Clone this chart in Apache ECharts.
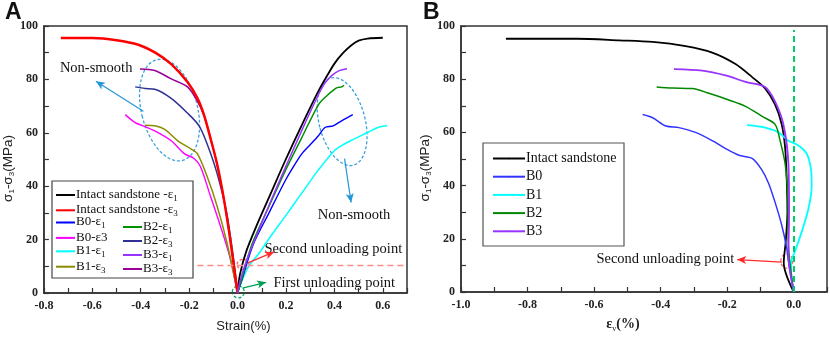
<!DOCTYPE html>
<html>
<head>
<meta charset="utf-8">
<script src="https://cdn.jsdelivr.net/npm/echarts@6/dist/echarts.min.js"></script>
<style>
html, body { margin: 0; padding: 0; background: #fff; }
#chart { width: 830px; height: 338px; }
</style>
</head>
<body>
<div id="chart"></div>
<script>
// ---- panel A : strain(%) vs sigma1-sigma3 (MPa) ----
const intactE1 = [[0,0],[0.01,7],[0.036,15.6],[0.08,25.5],[0.131,36],[0.199,50],[0.266,63],[0.334,75.6],[0.374,82],[0.401,86],[0.435,89.8],[0.469,92.7],[0.5,94.5],[0.537,95.3],[0.6,95.6]];
const intactE3 = [[-0.73,95.5],[-0.6,95.5],[-0.5,94.7],[-0.41,93],[-0.34,90],[-0.274,85.7],[-0.207,79],[-0.166,73],[-0.139,66.8],[-0.112,58],[-0.085,48.5],[-0.058,36],[-0.031,20.5],[0,0]];
const b0E1 = [[0,0],[0.02,5.5],[0.064,18],[0.131,30.2],[0.199,42.4],[0.239,48.5],[0.266,52.2],[0.3,55.5],[0.334,58.9],[0.361,62],[0.395,62.6],[0.43,64.5],[0.476,66.8]];
const b0E3 = [[-0.464,66.8],[-0.423,63.8],[-0.396,62.8],[-0.342,60.7],[-0.274,57],[-0.22,52.2],[-0.18,50.4],[-0.153,47.3],[-0.112,36.3],[-0.072,25.4],[-0.031,13.2],[0,0]];
const b1E1 = [[0,0],[0.02,5],[0.05,10.5],[0.09,15],[0.131,20.5],[0.199,29],[0.266,37.5],[0.334,46.1],[0.401,53.4],[0.442,55.8],[0.469,57.1],[0.537,60.1],[0.58,62],[0.618,62.6]];
const b1E3 = [[-0.382,62.8],[-0.342,62.6],[-0.301,61.3],[-0.247,57],[-0.193,54],[-0.166,52.2],[-0.126,43.7],[-0.085,32.7],[-0.045,19.3],[0,0]];
const b2E1 = [[0,0],[0.02,6],[0.037,11.9],[0.064,19.3],[0.131,32.7],[0.199,46.1],[0.266,58.3],[0.334,70.5],[0.37,74],[0.4,76.3],[0.415,77],[0.43,77.2],[0.44,77.8]];
const b2E3 = [[-0.423,77.2],[-0.382,76.6],[-0.342,76.3],[-0.274,72.9],[-0.207,67.4],[-0.159,62.6],[-0.126,55.9],[-0.085,44.9],[-0.045,30],[-0.02,15],[0,0]];
const b3E1 = [[0,0],[0.015,6],[0.045,14],[0.09,24],[0.14,35],[0.2,47.5],[0.266,61],[0.33,73.5],[0.36,78.5],[0.39,81.5],[0.42,83.3],[0.452,84]];
const b3E3 = [[-0.403,83.9],[-0.342,83.3],[-0.274,80.2],[-0.207,77.2],[-0.17,72.5],[-0.139,66.5],[-0.112,58],[-0.085,48.3],[-0.058,36],[-0.031,20.5],[0,0]];

// ---- panel B : volumetric strain(%) vs sigma1-sigma3 ----
const intactV = [[-0.865,95.2],[-0.653,95.2],[-0.524,94.6],[-0.424,94],[-0.325,92.4],[-0.245,90],[-0.175,85.7],[-0.125,80.8],[-0.086,76.5],[-0.056,70.4],[-0.036,63],[-0.026,54.5],[-0.021,42.2],[-0.019,30],[-0.024,19],[-0.03,11],[0,0]];
const b0V = [[-0.454,66.7],[-0.424,65.5],[-0.384,62.4],[-0.345,61.8],[-0.295,60],[-0.245,56.9],[-0.205,53.9],[-0.165,51.4],[-0.125,50.2],[-0.096,45.9],[-0.076,41],[-0.056,33.7],[-0.036,25.1],[-0.021,16.5],[-0.016,11.6],[-0.011,8],[0,0]];
const b1V = [[-0.14,62.7],[-0.086,61.8],[-0.046,60],[-0.016,56.9],[0.014,55.1],[0.039,52],[0.052,45.9],[0.054,39.8],[0.044,31.2],[0.024,22.6],[0.004,15.3],[-0.008,11],[-0.008,8],[0,0]];
const b2V = [[-0.412,77.1],[-0.365,76.7],[-0.305,76.5],[-0.255,74.7],[-0.195,72.2],[-0.145,69.8],[-0.096,66.1],[-0.056,63],[-0.041,56.9],[-0.026,48.3],[-0.018,36.1],[-0.016,17.7],[0,0]];
const b3V = [[-0.36,83.8],[-0.275,83.2],[-0.205,81.4],[-0.145,79],[-0.086,77.1],[-0.056,71.6],[-0.031,63],[-0.016,48.3],[-0.014,30],[-0.016,14],[0,0]];

// axis ranges [min, max, tick step]
const xAxisA = [-0.8, 0.7, 0.1];
const xAxisB = [-1.0, 0.1, 0.1];
const yAxisAB = [0, 100, 10];
const secondUnloadA = 10.5;   // dashed red level in panel A

const serif = 'Liberation Serif';
const sans = 'Liberation Sans';

function line(name, data, color, width, gi, extra) {
    return Object.assign({
        name: name, type: 'line', data: data,
        xAxisIndex: gi, yAxisIndex: gi,
        symbol: 'none', smooth: 0.3,
        lineStyle: { color: color, width: width },
        itemStyle: { color: color },
        emphasis: { disabled: true },
        animation: false
    }, extra || {});
}

function xAx(gi, r, name) {
    return {
        gridIndex: gi, type: 'value', min: r[0], max: r[1], interval: r[2],
        axisLine: { onZero: false, lineStyle: { color: '#333', width: 1.5 } },
        axisTick: { inside: true, length: 5, lineStyle: { color: '#333', width: 1.2 } },
        splitLine: { show: false },
        axisLabel: {
            formatter: v => (Math.round(v * 10) % 2 === 0 ? v.toFixed(1) : ''),
            fontFamily: serif, fontWeight: 'bold', fontSize: 12, color: '#222', margin: 7
        },
        name: name
    };
}
function yAx(gi) {
    return {
        gridIndex: gi, type: 'value', min: yAxisAB[0], max: yAxisAB[1], interval: yAxisAB[2],
        axisLine: { onZero: false, lineStyle: { color: '#333', width: 1.5 } },
        axisTick: { inside: true, length: 5, lineStyle: { color: '#333', width: 1.2 } },
        splitLine: { show: false },
        axisLabel: {
            formatter: v => (v % 20 === 0 ? String(v) : ''),
            fontFamily: serif, fontWeight: 'bold', fontSize: 12, color: '#222', margin: 6
        },
        name: '{a|σ}{s|1}{a|-σ}{s|3}{a|(MPa)}',
        nameLocation: 'middle', nameGap: 21,
        nameTextStyle: {
            padding: [0, 18, 0, 0],
            rich: {
                a: { fontFamily: sans, fontSize: 13.5, color: '#222', verticalAlign: 'top', lineHeight: 15 },
                s: { fontFamily: sans, fontSize: 8, color: '#222', verticalAlign: 'top', padding: [7, 0, 0, 0], lineHeight: 9 }
            }
        }
    };
}

function legRich(size) {
    return {
        t: { fontFamily: serif, fontSize: size, color: '#111', verticalAlign: 'top', lineHeight: 14 },
        s: { fontFamily: serif, fontSize: 9, color: '#111', verticalAlign: 'top', padding: [6, 0, 0, 0], lineHeight: 8 }
    };
}
function legFmt(name) {
    const m = name.match(/^(.*ε)([13])$/);
    if (m && name !== 'B0-ε3') return '{t|' + m[1] + '}{s|' + m[2] + '}';
    return '{t|' + name + '}';
}
function legend(names, left, top, gap, w, size) {
    return {
        data: names, orient: 'vertical', left: left, top: top, padding: 0,
        itemGap: gap, itemWidth: w, itemHeight: 2, selectedMode: false,
        formatter: legFmt, textStyle: { rich: legRich(size), padding: [0, 0, 0, -4] }
    };
}

const xa = xAx(0, xAxisA, 'Strain(%)');
xa.nameLocation = 'middle'; xa.nameGap = 27;
xa.nameTextStyle = { fontFamily: sans, fontSize: 13, color: '#222', padding: [0, 0, 0, 36] };
const xb = xAx(1, xAxisB, '{a|ε}{s|v}{a|(%)}');
xb.nameLocation = 'middle'; xb.nameGap = 25;
xb.nameTextStyle = {
    padding: [0, 42, 0, 0],
    rich: {
        a: { fontFamily: serif, fontSize: 14, fontWeight: 'bold', color: '#222', verticalAlign: 'top', lineHeight: 16 },
        s: { fontFamily: serif, fontSize: 8, color: '#222', verticalAlign: 'top', padding: [8, 0, 0, 0], lineHeight: 9 }
    }
};

const option = {
    backgroundColor: '#fff',
    animation: false,
    grid: [
        { left: 38, top: 26, width: 369, height: 273, show: true, borderColor: '#333', borderWidth: 1.5 },
        { left: 461, top: 26, width: 367, height: 272, show: true, borderColor: '#333', borderWidth: 1.5 }
    ],
    xAxis: [xa, xb],
    yAxis: [yAx(0), yAx(1)],
    legend: [
        legend(['Intact sandstone -ε1', 'Intact sandstone -ε3'], 55, 188, 0.3, 19, 13),
        legend(['B0-ε1', 'B0-ε3', 'B1-ε1', 'B1-ε3'], 55, 215.5, 0.4, 19, 13),
        legend(['B2-ε1', 'B2-ε3', 'B3-ε1', 'B3-ε3'], 122, 220, -1, 19, 13),
        legend(['Intact sandstone', 'B0', 'B1', 'B2', 'B3'], 492, 151.5, 4.2, 32, 14)
    ],
    series: [
        line('Intact sandstone -ε1', intactE1, '#000', 1.8, 0, {
            markLine: {
                silent: true, animation: false, label: { show: false }, symbolSize: [6, 9],
                data: [
                    [{ coord: [-0.166, secondUnloadA], symbol: 'none', lineStyle: { color: '#ff8a8a', type: [6, 4], width: 1.3 } },
                     { coord: [0.7, secondUnloadA], symbol: 'none' }],
                    [{ coord: [0.043, 11.3], symbol: 'none', lineStyle: { color: '#ff2a2a', type: 'solid', width: 1.2 } },
                     { coord: [0.151, 15.4], symbol: 'arrow' }],
                    [{ coord: [0.02, 1.8], symbol: 'none', lineStyle: { color: '#00a050', type: 'solid', width: 1.2 } },
                     { coord: [0.118, 4.0], symbol: 'arrow' }],
                    [{ coord: [-0.389, 68.1], symbol: 'none', lineStyle: { color: '#2196d8', type: 'solid', width: 1.2 } },
                     { coord: [-0.585, 79.3], symbol: 'arrow' }],
                    [{ coord: [0.442, 50.3], symbol: 'none', lineStyle: { color: '#2196d8', type: 'solid', width: 1.2 } },
                     { coord: [0.469, 33.9], symbol: 'arrow' }]
                ]
            }
        }),
        line('B0-ε3', b0E3, '#ff00ff', 1.4, 0),
        line('B1-ε3', b1E3, '#8c8c00', 1.5, 0),
        line('B2-ε3', b2E3, '#2e3192', 1.5, 0),
        line('B3-ε3', b3E3, '#990099', 1.5, 0),
        line('Intact sandstone -ε3', intactE3, '#ff0000', 2.5, 0, { z: 3 }),
        line('B1-ε1', b1E1, '#00ffff', 1.5, 0),
        line('B0-ε1', b0E1, '#0000ff', 1.4, 0),
        line('B2-ε1', b2E1, '#009000', 1.5, 0),
        line('B3-ε1', b3E1, '#9933ff', 1.5, 0),

        line('Intact sandstone', intactV, '#000', 1.8, 1, {
            markLine: {
                silent: true, animation: false, label: { show: false }, symbolSize: [6, 9],
                data: [
                    [{ coord: [0, 0], symbol: 'none', lineStyle: { color: '#00cc66', type: [6, 4], width: 2 } },
                     { coord: [0, 98.5], symbol: 'none' }],
                    [{ coord: [-0.036, 11.2], symbol: 'none', lineStyle: { color: '#ff2a2a', type: 'solid', width: 1.2 } },
                     { coord: [-0.17, 12.2], symbol: 'arrow' }]
                ]
            }
        }),
        line('B0', b0V, '#3333ff', 1.5, 1),
        line('B1', b1V, '#00ffff', 1.8, 1),
        line('B2', b2V, '#008800', 1.5, 1),
        line('B3', b3V, '#9933ff', 1.8, 1)
    ]
};

const chart = echarts.init(document.getElementById('chart'), null, { renderer: 'canvas' });
chart.setOption(option);

// annotations placed through the axes
const pA = (x, y) => chart.convertToPixel({ gridIndex: 0 }, [x, y]);
const pB = (x, y) => chart.convertToPixel({ gridIndex: 1 }, [x, y]);
function txt(p, s) {
    return { type: 'text', x: p[0], y: p[1], silent: true,
        style: { text: s, fontFamily: serif, fontSize: 14.5, fill: '#111', verticalAlign: 'middle' } };
}
function ell(p, rx, ry, rot, color) {
    return { type: 'ellipse', x: p[0], y: p[1], rotation: rot, silent: true,
        shape: { cx: 0, cy: 0, rx: rx, ry: ry },
        style: { fill: 'none', stroke: color, lineWidth: 1.3, lineDash: [3, 2] } };
}
chart.setOption({
    graphic: [
        { type: 'text', left: 5, top: 1, style: { text: 'A', fontFamily: sans, fontWeight: 'bold', fontSize: 23, fill: '#111' } },
        { type: 'text', left: 423, top: 1, style: { text: 'B', fontFamily: sans, fontWeight: 'bold', fontSize: 23, fill: '#111' } },
        { type: 'rect', shape: { x: 52, y: 181, width: 141, height: 97 }, silent: true, z: -1,
          style: { fill: '#fff', stroke: '#444', lineWidth: 1.2 } },
        { type: 'rect', shape: { x: 483, y: 143, width: 141, height: 103 }, silent: true, z: -1,
          style: { fill: '#fff', stroke: '#555', lineWidth: 1.2 } },
        txt(pA(-0.734, 84.2), 'Non-smooth'),
        txt(pA(0.331, 29), 'Non-smooth'),
        txt(pA(0.111, 16.5), 'Second unloading point'),
        txt(pA(0.148, 3.6), 'First unloading point'),
        txt(pB(-0.593, 12.2), 'Second unloading point'),
        ell(pA(-0.281, 68.5), 28, 52, 0.25, '#3aa0dd'),
        ell(pA(0.432, 64.2), 23, 45, 0.25, '#3aa0dd'),
        ell(pA(0.023, 10.7), 6, 5, 0, '#ff6060'),
        ell(pA(0.003, 0.4), 6, 6, 0, '#00b060'),
        ell(pB(-0.021, 11.6), 6, 7, 0, '#ff6060')
    ]
});
</script>
</body>
</html>
